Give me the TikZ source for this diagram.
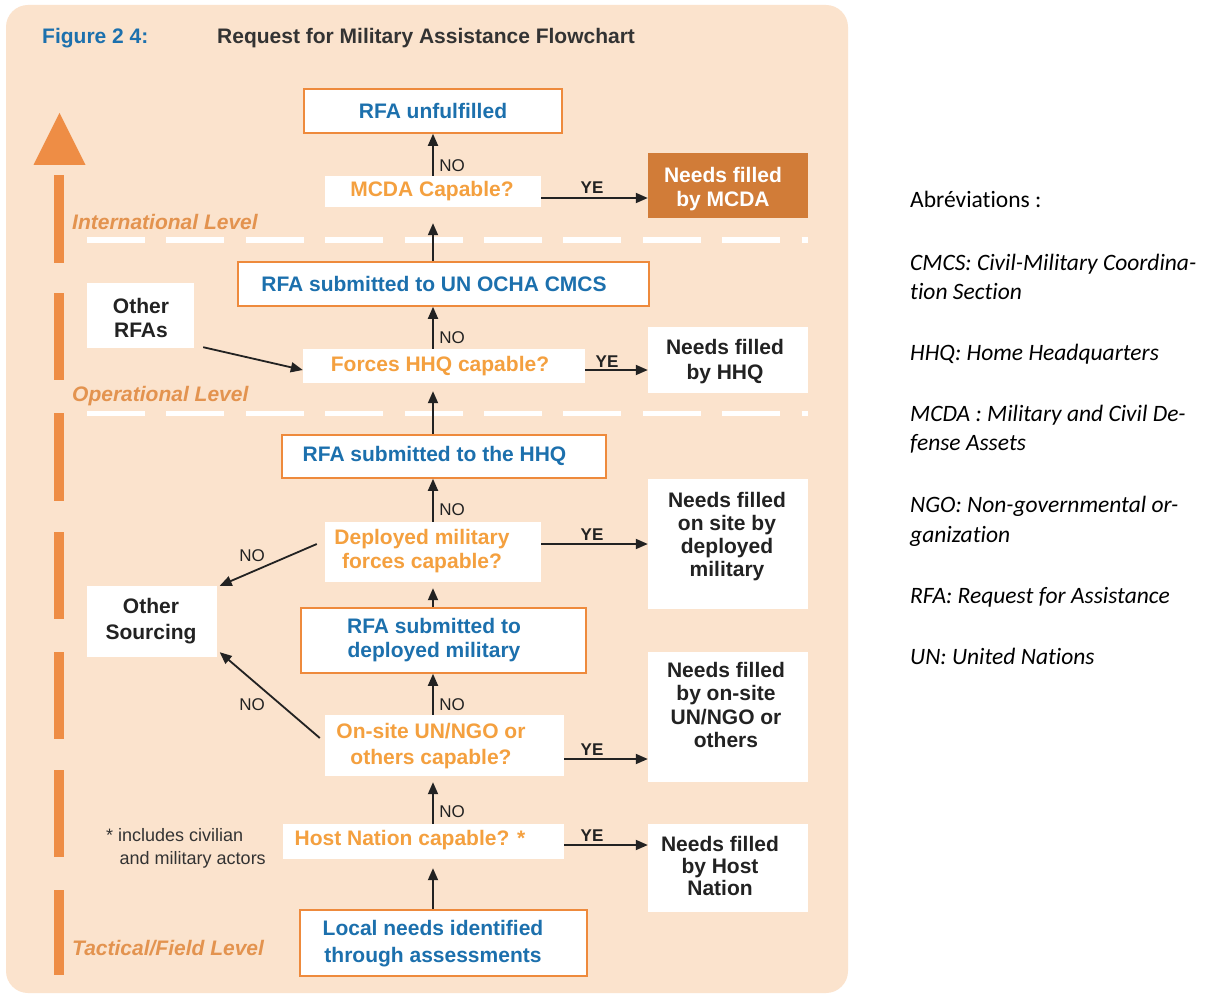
\documentclass[tikz,border=0pt]{standalone}
\usepackage{fontspec}
\setmainfont{Liberation Sans}
\newfontfamily\calib[Ligatures=NoCommon]{Carlito}
\usetikzlibrary{arrows.meta,calc}
\definecolor{bgpeach}{HTML}{FBE3CD}
\definecolor{barorange}{HTML}{EE8D45}
\definecolor{boxorange}{HTML}{EE8A3C}
\definecolor{qorange}{HTML}{F4A03F}
\definecolor{lvlorange}{HTML}{E3934F}
\definecolor{tblue}{HTML}{1C70AD}
\definecolor{darkfill}{HTML}{D17C38}
\definecolor{tdark}{HTML}{222222}
\definecolor{fgray}{HTML}{333333}
\tikzset{
  obox/.style={draw=boxorange, line width=1.6pt, fill=white, inner sep=0pt},
  wbox/.style={fill=white, inner sep=0pt},
  dbox/.style={fill=darkfill, inner sep=0pt},
  lbl/.style={font=\fontsize{21}{24.5}\selectfont\bfseries, align=center, inner sep=0pt},
  qtxt/.style={lbl, text=qorange},
  btxt/.style={lbl, text=tblue},
  dtxt/.style={lbl, text=tdark},
  lvl/.style={anchor=west, inner sep=0pt, font=\fontsize{21}{24}\selectfont\bfseries\itshape, text=lvlorange},
  arr/.style={-{Triangle[length=12pt,width=10pt]}, line width=1.8pt, draw=tdark},
  nolbl/.style={font=\fontsize{17}{17}\selectfont, text=tdark, inner sep=0pt},
  yelbl/.style={font=\fontsize{17}{17}\selectfont\bfseries, text=tdark, inner sep=0pt},
  abbr/.style={anchor=base west, inner sep=0pt, font=\calib\fontsize{23.5}{30}\selectfont\itshape, text=black}
}
\begin{document}
\begin{tikzpicture}[x=1pt,y=-1pt]
\useasboundingbox (0,0) rectangle (1210,995);
\fill[white] (0,0) rectangle (1210,995);
% background panel
\fill[bgpeach, rounded corners=22pt] (6,5) rectangle (848,993);
% title
\node[anchor=west, inner sep=0pt, font=\fontsize{21}{24}\selectfont\bfseries, text=tblue] (fig) at (42,38) {Figure 2 4:};
\node[anchor=west, inner sep=0pt, font=\fontsize{21}{24}\selectfont\bfseries, text=fgray] (ttl) at (217,38) {Request for Military Assistance Flowchart};
% left arrow
\fill[barorange] (59.5,113) -- (85.5,165) -- (33.5,165) -- cycle;
\foreach \a/\b in {175/263, 293/380, 413/501, 532/619, 652/739, 770/857, 890/975}
  \fill[barorange] (54,\a) rectangle (64,\b);
% level separators
\draw[white, line width=5pt, dash pattern=on 58pt off 21.4pt] (87,240) -- (808,240);
\draw[white, line width=5pt, dash pattern=on 58pt off 21.4pt] (87,413) -- (808,413);
% level labels
\node[lvl] (lint) at (72,222) {International Level};
\node[lvl] (lop) at (72,396) {Operational Level};
\node[lvl] (ltac) at (72,948) {Tactical/Field Level};
% axis
\coordinate (ax) at (433,0);
% boxes
\node[obox, minimum width=258pt, minimum height=44pt] (unf) at (433,111) {};
\node[wbox, minimum width=216pt, minimum height=31pt] (mcda) at (433,191.5) {};
\node[dbox, minimum width=160pt, minimum height=65pt] (nmcda) at (728,185.5) {};
\node[obox, minimum width=411pt, minimum height=44pt] (ocha) at (443.5,284) {};
\node[wbox, minimum width=107pt, minimum height=65pt] (ohrfa) at (140.5,315.5) {};
\node[wbox, minimum width=282pt, minimum height=34pt] (hhqcap) at (444,366) {};
\node[wbox, minimum width=160pt, minimum height=66pt] (nhhq) at (728,360) {};
\node[obox, minimum width=324pt, minimum height=43pt] (rfahhq) at (444,456.5) {};
\node[wbox, minimum width=216pt, minimum height=60pt] (dep) at (433,552) {};
\node[wbox, minimum width=160pt, minimum height=130pt] (ndep) at (728,544) {};
\node[wbox, minimum width=130pt, minimum height=71pt] (os) at (152,621.5) {};
\node[obox, minimum width=285pt, minimum height=65pt] (rfadep) at (443.5,640.5) {};
\node[wbox, minimum width=239pt, minimum height=61pt] (onsite) at (444.5,745.5) {};
\node[wbox, minimum width=160pt, minimum height=130pt] (nons) at (728,717) {};
\node[wbox, minimum width=281pt, minimum height=35pt] (host) at (423.5,841.5) {};
\node[wbox, minimum width=160pt, minimum height=88pt] (nhost) at (728,868) {};
\node[obox, minimum width=287pt, minimum height=66pt] (local) at (443.5,943) {};
% texts
\node[btxt] (tunf) at (433,111) {RFA unfulfilled};
\node[qtxt] (tmcda) at (432,191) {MCDA Capable?};
\node[lbl, text=white] (tnmcda) at (723,189) {Needs filled\\by MCDA};
\node[btxt] (tocha) at (434,284) {RFA submitted to UN OCHA CMCS};
\node[dtxt] (tohrfa) at (141,318) {Other\\RFAs};
\node[qtxt] (thhqcap) at (440,366) {Forces HHQ capable?};
\node[dtxt] (tnhhq) at (725,361.5) {Needs filled\\by HHQ};
\node[btxt] (trfahhq) at (434.5,456) {RFA submitted to the HHQ};
\node[qtxt] (tdep) at (422,551) {Deployed military\\forces capable?};
\node[dtxt, font=\fontsize{21}{23}\selectfont\bfseries] (tndep) at (727,536.5) {Needs filled\\on site by\\deployed\\military};
\node[dtxt, font=\fontsize{21}{26}\selectfont\bfseries] (tos) at (151,621.5) {Other\\Sourcing};
\node[btxt] (trfadep) at (434,640) {RFA submitted to\\deployed military};
\node[qtxt, font=\fontsize{21}{26}\selectfont\bfseries] (tonsite) at (431,746) {On-site UN/NGO or\\others capable?};
\node[dtxt, font=\fontsize{21}{23.3}\selectfont\bfseries] (tnons) at (726,705) {Needs filled\\by on-site\\UN/NGO or\\others};
\node[qtxt] (thost) at (410,840) {Host Nation capable? *};
\node[dtxt, font=\fontsize{21}{22}\selectfont\bfseries] (tnhost) at (720,866) {Needs filled\\by Host\\Nation};
\node[btxt, font=\fontsize{21}{27}\selectfont\bfseries] (tlocal) at (433,943.5) {Local needs identified\\through assessments};
% footnote
\node[inner sep=0pt, align=left, font=\fontsize{18}{23}\selectfont, text=fgray] (fn) at (186,848.5) {* includes civilian\\\hspace*{0.75em}and military actors};
% vertical arrows
\draw[arr] (mcda.north) -- (unf.south);
\draw[arr, shorten >=16pt] (ocha.north -| ax) -- (mcda.south);
\draw[arr] (hhqcap.north -| ax) -- (ocha.south -| ax);
\draw[arr, shorten >=8pt] (rfahhq.north -| ax) -- (hhqcap.south -| ax);
\draw[arr] (dep.north) -- (rfahhq.south -| ax);
\draw[arr, shorten >=6pt] (rfadep.north -| ax) -- (dep.south);
\draw[arr] (onsite.north -| ax) -- (rfadep.south -| ax);
\draw[arr, shorten >=6pt] (host.north -| ax) -- (onsite.south -| ax);
\draw[arr, shorten >=9pt] (local.north -| ax) -- (host.south -| ax);
% horizontal arrows
\coordinate (h1) at ([yshift=-6.5pt]mcda.east);
\draw[arr] (h1) -- (h1 -| nmcda.west);
\coordinate (h2) at ([yshift=-4pt]hhqcap.east);
\draw[arr] (h2) -- (h2 -| nhhq.west);
\coordinate (h3) at ([yshift=8pt]dep.east);
\draw[arr] (h3) -- (h3 -| ndep.west);
\coordinate (h4) at ([yshift=-13.5pt]onsite.east);
\draw[arr] (h4) -- (h4 -| nons.west);
\coordinate (h5) at ([yshift=-3.5pt]host.east);
\draw[arr] (h5) -- (h5 -| nhost.west);
% diagonal arrows
\draw[arr] ([xshift=9pt,yshift=1pt]ohrfa.south east) -- ([yshift=-4pt]hhqcap.west);
\draw[arr] ([xshift=-8pt,yshift=8pt]dep.west) -- ([xshift=2.5pt]os.north east);
\draw[arr] ([xshift=-5pt,yshift=7.5pt]onsite.west) -- ([xshift=2.5pt,yshift=5pt]os.south east);
% arrow labels
\node[nolbl] (n1) at (452,166) {NO};
\node[nolbl] (n2) at (452,338) {NO};
\node[nolbl] (n3) at (452,510) {NO};
\node[nolbl] (n4) at (452,705) {NO};
\node[nolbl] (n5) at (452,812) {NO};
\node[nolbl] (n6) at (252,556) {NO};
\node[nolbl] (n7) at (252,705) {NO};
\node[yelbl] (y1) at (592,187.5) {YE};
\node[yelbl] (y2) at (607,361.5) {YE};
\node[yelbl] (y3) at (592,534.5) {YE};
\node[yelbl] (y4) at (592,749.5) {YE};
\node[yelbl] (y5) at (592,835.5) {YE};
% abbreviations
\node[abbr, font=\calib\fontsize{23.5}{30}\selectfont] (ab0) at (910,207.5) {Abréviations :};
\node[abbr] (ab1) at (910,270.5) {CMCS: Civil-Military Coordina-};
\node[abbr] (ab1b) at (910,299.5) {tion Section};
\node[abbr] (ab2) at (910,360.5) {HHQ: Home Headquarters};
\node[abbr] (ab3) at (910,421.5) {MCDA : Military and Civil De-};
\node[abbr] (ab3b) at (910,450.5) {fense Assets};
\node[abbr] (ab4) at (910,512.5) {NGO: Non-governmental or-};
\node[abbr] (ab4b) at (910,542.5) {ganization};
\node[abbr] (ab5) at (910,603.5) {RFA: Request for Assistance};
\node[abbr] (ab6) at (910,664.5) {UN: United Nations};
\end{tikzpicture}
\end{document}
